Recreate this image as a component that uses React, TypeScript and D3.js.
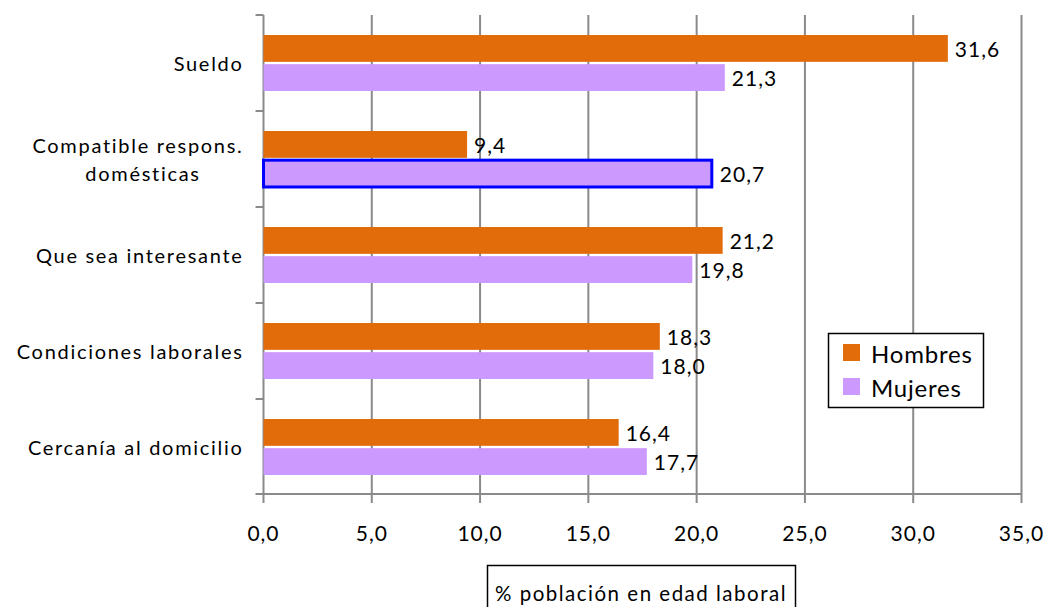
import React from "react";
import * as d3 from "d3";

const categories: string[][] = [
  ["Sueldo"],
  ["Compatible respons.", "domésticas"],
  ["Que sea interesante"],
  ["Condiciones laborales"],
  ["Cercanía al domicilio"],
];
const seriesNames = ["Hombres", "Mujeres"];
const hombres = [31.6, 9.4, 21.2, 18.3, 16.4];
const mujeres = [21.3, 20.7, 19.8, 18.0, 17.7];
const xTicks = [0, 5, 10, 15, 20, 25, 30, 35];
const axisTitle = "% población en edad laboral";
const highlighted = { category: 1, series: 1 };

const colors = ["#E36C0A", "#CC99FF"];
const fmt = (v: number) => v.toFixed(1).replace(".", ",");

export default function App() {
  const W = 1045, H = 607;
  const left = 263.5, right = 1021.5, top = 15, bottom = 495;
  const x = d3.scaleLinear().domain([0, 35]).range([left, right]);
  const keys = categories.map((c) => c.join(" "));
  const y = d3.scaleBand().domain(keys).range([top, bottom]).padding(0);
  const bw = y.bandwidth();
  const sub = d3.scaleBand().domain(seriesNames).range([20, bw - 20]).paddingInner(0.08);
  const values = [hombres, mujeres];
  const font = "Lato, 'Open Sans', sans-serif";
  const grid = "#8a8a8a";
  const catFs = 20, catLs = 1.7;

  return (
    <svg width={W} height={H} style={{ position: "absolute", left: 0, top: 0, background: "#fff" }} fontFamily={font}>
      {/* gridlines */}
      {xTicks.map((t) => (
        <line key={"g" + t} x1={x(t)} x2={x(t)} y1={top} y2={bottom + 8} stroke={grid} strokeWidth={2} />
      ))}
      {/* x axis */}
      <line x1={left} x2={right} y1={bottom - 1} y2={bottom - 1} stroke={grid} strokeWidth={2} />
      {/* y axis ticks */}
      {d3.range(categories.length + 1).map((i) => {
        const yy = i < categories.length ? (y(keys[i]) as number) : bottom - 1;
        return <line key={"yt" + i} x1={left - 8} x2={left} y1={yy} y2={yy} stroke={grid} strokeWidth={2} />;
      })}
      {/* x tick labels */}
      {xTicks.map((t) => (
        <text key={"tl" + t} x={x(t)} y={532} textAnchor="middle" dominantBaseline="central" fontSize={21} letterSpacing={1} fill="#000">
          {fmt(t)}
        </text>
      ))}
      {/* category labels */}
      {categories.map((lines, i) => {
        const cy = (y(keys[i]) as number) + bw / 2;
        if (lines.length === 1) {
          return (
            <text key={"c" + i} x={243.5} y={cy} textAnchor="end" dominantBaseline="central" fontSize={catFs} letterSpacing={catLs} fill="#000">
              {lines[0]}
            </text>
          );
        }
        return (
          <g key={"c" + i}>
            <text x={243.5} y={cy - 14} textAnchor="end" dominantBaseline="central" fontSize={catFs} letterSpacing={catLs} fill="#000">
              {lines[0]}
            </text>
            <text x={143} y={cy + 14} textAnchor="middle" dominantBaseline="central" fontSize={catFs} letterSpacing={catLs} fill="#000">
              {lines[1]}
            </text>
          </g>
        );
      })}
      {/* bars */}
      {categories.map((_, i) =>
        seriesNames.map((s, si) => {
          const v = values[si][i];
          const by = (y(keys[i]) as number) + (sub(s) as number);
          const hl = highlighted.category === i && highlighted.series === si;
          return (
            <g key={"b" + i + s}>
              <rect
                x={x(0)}
                y={by}
                width={x(v) - x(0)}
                height={sub.bandwidth()}
                fill={colors[si]}
                stroke={hl ? "#0000FF" : "none"}
                strokeWidth={hl ? 3 : 0}
              />
              <text x={x(v) + (hl ? 8 : 7)} y={by + sub.bandwidth() / 2} dominantBaseline="central" fontSize={21} letterSpacing={1} fill="#000">
                {fmt(v)}
              </text>
            </g>
          );
        })
      )}
      {/* legend */}
      <rect x={828.5} y={333.5} width={155} height={74} fill="#fff" stroke="#000" strokeWidth={1.5} />
      {seriesNames.map((s, si) => (
        <g key={"l" + s}>
          <rect x={843} y={344 + si * 34} width={17} height={17} fill={colors[si]} />
          <text x={871} y={353 + si * 34} dominantBaseline="central" fontSize={24} letterSpacing={0.8} fill="#000">
            {s}
          </text>
        </g>
      ))}
      {/* axis title */}
      <rect x={487.5} y={565.5} width={308} height={60} fill="#fff" stroke="#000" strokeWidth={1.5} />
      <text x={641} y={593} textAnchor="middle" dominantBaseline="central" fontSize={20.5} letterSpacing={1.5} fill="#000">
        {axisTitle}
      </text>
    </svg>
  );
}
